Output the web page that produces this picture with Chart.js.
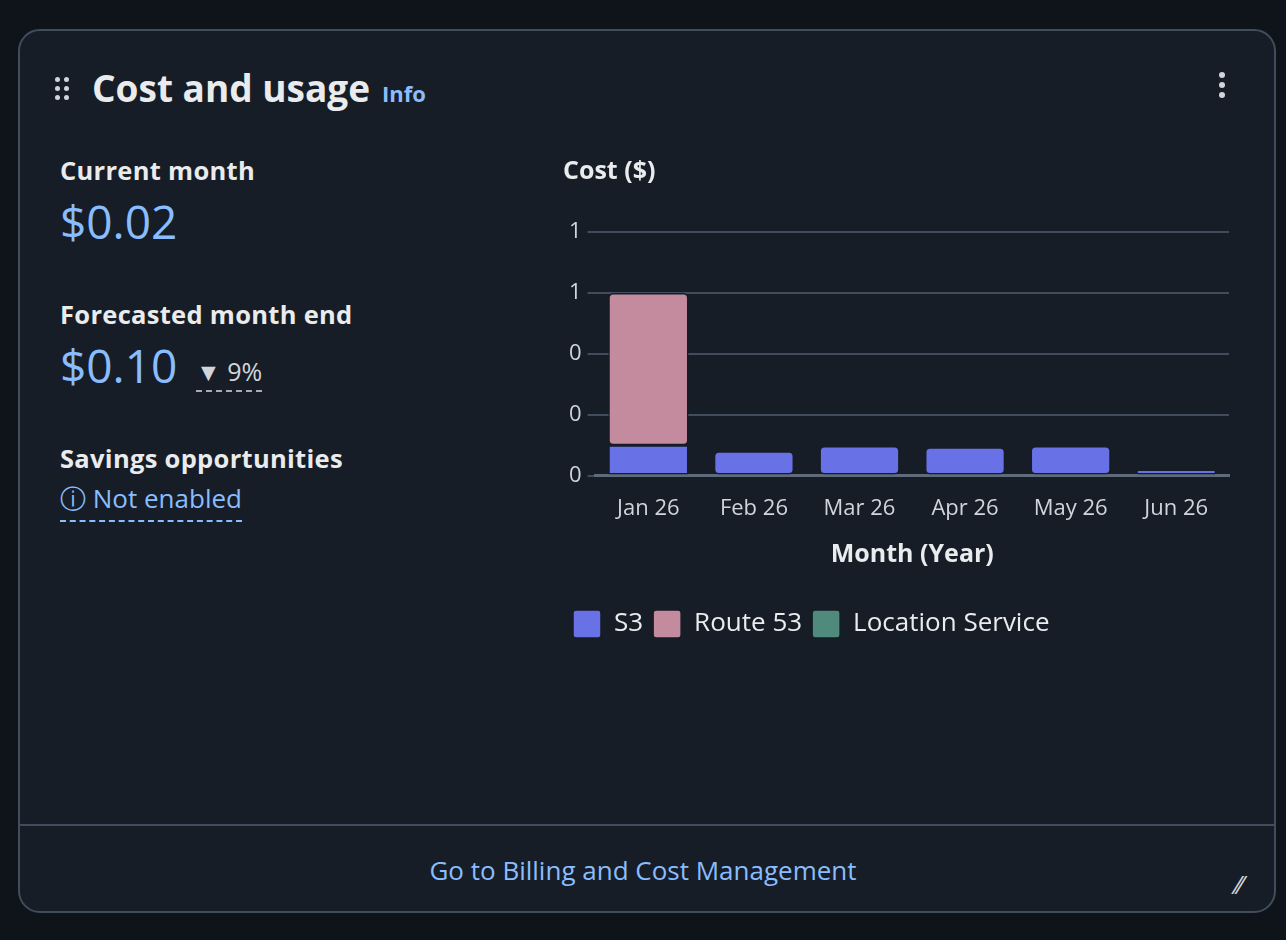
<!DOCTYPE html>
<html><head><meta charset="utf-8">
<script src="https://cdn.jsdelivr.net/npm/chart.js@4"></script>
<style>
body{margin:0;background:#0f141a;font-family:"Open Sans","Noto Sans",sans-serif;color:#e9ebed;width:1286px;height:940px;overflow:hidden}
.card{position:absolute;left:18px;top:29px;width:1258px;height:884px;border:2px solid #414d5c;border-radius:22px;background:#161d26;box-sizing:border-box}
.title{position:absolute;left:72px;top:62px;font-size:37px;font-weight:700}
.info{position:absolute;left:382px;top:78px;font-size:22px;font-weight:700;color:#89bdff}
.grip{position:absolute;left:53px;top:75px;width:20px;height:28px}
.grip i{position:absolute;width:5px;height:5px;border-radius:50%;background:#d1d5db}
.lab{position:absolute;left:60px;font-size:25.5px;font-weight:700;letter-spacing:0.3px}
.big{position:absolute;left:60px;font-size:46px;color:#89bdff}
.foot{position:absolute;left:18px;top:824px;width:1258px;border-top:2px solid #414d5c}
.link{position:absolute;left:0;width:1286px;text-align:center;top:852px;font-size:26px;color:#89bdff}
#wrap{position:absolute;left:563px;top:157px;width:676px;height:491px}
</style></head><body>
<div class="card"></div>
<div class="grip"><i style="left:2px;top:2px"></i><i style="left:11px;top:2px"></i><i style="left:2px;top:11px"></i><i style="left:11px;top:11px"></i><i style="left:2px;top:20px"></i><i style="left:11px;top:20px"></i></div>
<div class="title" style="left:92px">Cost and usage</div>
<div class="info">Info</div>
<div style="position:absolute;left:1219px;top:72px;width:6px">
<div style="width:6px;height:6px;border-radius:50%;background:#d1d5db;margin-bottom:4px"></div>
<div style="width:6px;height:6px;border-radius:50%;background:#d1d5db;margin-bottom:4px"></div>
<div style="width:6px;height:6px;border-radius:50%;background:#d1d5db"></div></div>
<div class="lab" style="top:153px">Current month</div>
<div class="big" style="top:190px">$0.02</div>
<div class="lab" style="top:297px">Forecasted month end</div>
<div class="big" style="top:334px">$0.10</div>
<div style="position:absolute;left:196px;top:354px;font-size:25px;color:#d1d5db;border-bottom:2px dashed #aab;padding-bottom:2px">&#9660; 9%</div>
<div class="lab" style="top:441px">Savings opportunities</div>
<div style="position:absolute;left:60px;top:480px;font-size:26px;color:#89bdff;border-bottom:2px dashed #89bdff;padding-bottom:3px">&#9432; Not enabled</div>
<div class="foot"></div>
<div class="link">Go to Billing and Cost Management</div>
<div style="position:absolute;left:1236px;top:866px;font-size:26px;color:#d1d5db">&#8260;&#8260;</div>
<div id="wrap"><canvas id="c"></canvas></div>
<script>
const months = ["Jan 26","Feb 26","Mar 26","Apr 26","May 26","Jun 26"];
const s3Costs = [0.1,0.08,0.097,0.093,0.097,0.02];
const route53Costs = [0.5,0,0,0,0,0];
const locationCosts = [0,0,0,0,0,0];
const tickValues = [0,0.2,0.4,0.6,0.8];

const bg = "#161d26";
const ds = (label, data, color) => ({label, data, backgroundColor: color, borderColor: bg, borderWidth: 1.5, borderRadius: 5, borderSkipped: false, barPercentage: 0.76, categoryPercentage: 1});
new Chart(document.getElementById("c"), {
  type: "bar",
  data: { labels: months, datasets: [ds("S3", s3Costs, "#6872e6"), ds("Route 53", route53Costs, "#c48a9d"), ds("Location Service", locationCosts, "#4f8a7c")] },
  options: {
    responsive: true, maintainAspectRatio: false, animation: false,
    layout: { padding: { right: 10 } },
    plugins: {
      title: { display: true, text: "Cost ($)", align: "start", color: "#e9ebed", font: { size: 25, weight: "bold", family: "Open Sans" }, padding: { bottom: 45 } },
      legend: { position: "bottom", align: "start", labels: { color: "#e9ebed", font: { size: 26, family: "Open Sans" }, boxWidth: 28, boxHeight: 28, useBorderRadius: true, borderRadius: 3, padding: 10 } },
      tooltip: { enabled: false }
    },
    scales: {
      x: { stacked: true, grid: { display: false }, border: { color: "#5f6b7a", width: 3 },
        ticks: { color: "#d1d5db", padding: 12, font: { size: 22, family: "Open Sans" } },
        title: { display: true, text: "Month (Year)", color: "#e9ebed", padding: { top: 6, bottom: 30 }, font: { size: 25, weight: "bold", family: "Open Sans" } } },
      y: { stacked: true, min: 0, max: 0.8, afterBuildTicks: a => { a.ticks = tickValues.map(v => ({ value: v })); },
        grid: { color: "#414d5c", lineWidth: 2 }, border: { display: false },
        ticks: { color: "#d1d5db", padding: 6, font: { size: 22, family: "Open Sans" }, callback: v => Math.round(v).toString() } }
    }
  }
});
</script>
</body></html>
